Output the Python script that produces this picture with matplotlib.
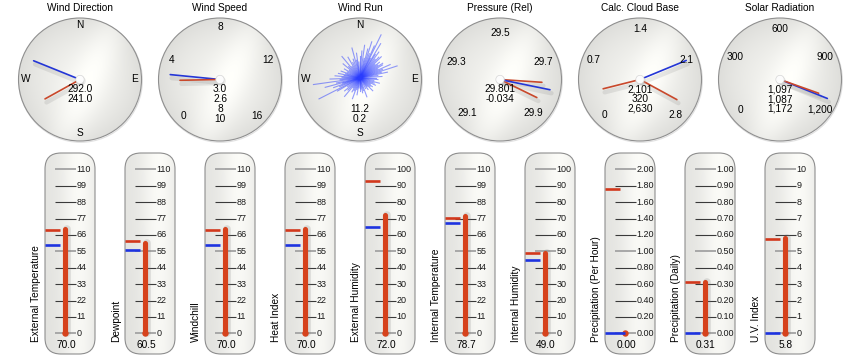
import numpy as np
import matplotlib
matplotlib.use("Agg")
import matplotlib.pyplot as plt
from matplotlib.patches import Circle, FancyBboxPatch

plt.rcParams['font.family'] = ['Liberation Sans', 'DejaVu Sans']

# ---------------- data ----------------
dial_titles = ["Wind Direction", "Wind Speed", "Wind Run",
               "Pressure (Rel)", "Calc. Cloud Base", "Solar Radiation"]

compass_labels = ["N", "E", "S", "W"]
compass_bearings = [0, 90, 180, 270]

wind_dir_current = 292.0
wind_dir_avg = 241.0
wind_dir_texts = ["292.0", "241.0"]

wind_speed_ticks = [0, 4, 8, 12, 16]
wind_speed_current = 3.0
wind_speed_avg = 2.6
wind_speed_texts = ["3.0", "2.6", "8", "10"]

wind_run_dirs = [0, 4, 8, 12, 15, 18, 21, 24, 26, 28, 31, 33, 36, 39, 42, 45, 48, 51, 54,
                 57, 60, 63, 66, 69, 72, 75, 78, 82, 86, 90, 95, 100, 105, 110, 115, 120,
                 125, 130, 135, 140, 145, 152, 160, 165, 170, 175, 180, 185, 190, 195, 200,
                 205, 210, 215, 220, 225, 230, 235, 240, 243, 247, 250, 253, 255, 258, 262,
                 265, 268, 272, 275, 279, 282, 286, 290, 295, 300, 305, 310, 315, 320, 325,
                 330, 335, 340, 345, 349, 352, 356]
wind_run_lens = [22, 27, 33, 20, 30, 38, 26, 35, 48, 22, 40, 28, 32, 24, 28, 30, 20, 25, 22,
                 27, 26, 20, 33, 24, 39, 22, 28, 18, 22, 16, 18, 14, 20, 15, 17, 12,
                 15, 13, 18, 11, 14, 12, 20, 13, 15, 11, 13, 10, 17, 12, 22,
                 14, 16, 12, 24, 17, 20, 15, 26, 46, 22, 28, 18, 36, 24, 47,
                 20, 30, 18, 25, 16, 22, 15, 20, 14, 18, 13, 22, 16, 28, 14,
                 24, 17, 20, 31, 18, 25, 16]
wind_run_texts = ["11.2", "0.2"]

pressure_ticks = [29.1, 29.3, 29.5, 29.7, 29.9]
pressure_tick_labels = ["29.1", "29.3", "29.5", "29.7", "29.9"]
pressure_current = 29.801
pressure_low = 29.778
pressure_high = 29.844
pressure_texts = ["29.801", "-0.034"]

cloud_ticks = [0, 0.7, 1.4, 2.1, 2.8]
cloud_tick_labels = ["0", "0.7", "1.4", "2.1", "2.8"]
cloud_current = 2.101
cloud_low = 0.320
cloud_high = 2.630
cloud_texts = ["2,101", "320", "2,630"]

solar_ticks = [0, 300, 600, 900, 1200]
solar_tick_labels = ["0", "300", "600", "900", "1,200"]
solar_current = 1097
solar_low = 1087
solar_texts = ["1,097", "1,087", "1,172"]

therm_names = ["External Temperature", "Dewpoint", "Windchill", "Heat Index",
               "External Humidity", "Internal Temperature", "Internal Humidity",
               "Precipitation (Per Hour)", "Precipitation (Daily)", "U.V. Index"]
therm_values = [70.0, 60.5, 70.0, 70.0, 72.0, 78.7, 49.0, 0.00, 0.31, 5.8]
therm_value_labels = ["70.0", "60.5", "70.0", "70.0", "72.0", "78.7", "49.0", "0.00", "0.31", "5.8"]
therm_high = [69.0, 62.0, 69.0, 69.0, 93.0, 77.5, 49.0, 1.76, 0.31, 5.77]
therm_low = [59.5, 56.2, 59.5, 59.5, 65.0, 74.2, 45.0, 0.0, 0.0, 0.0]
therm_scale_max = [110, 110, 110, 110, 100, 110, 100, 2.0, 1.0, 10]
therm_tick_decimals = [0, 0, 0, 0, 0, 0, 0, 2, 2, 0]

# ---------------- style ----------------
W, H = 858, 364
fig = plt.figure(figsize=(W / 100, H / 100), dpi=100)
fig.patch.set_facecolor("white")

BLUE = "#2436d6"
RED = "#c9482b"
BAR = "#d6421c"
FS = 7.3

bg = fig.add_axes([0, 0, 1, 1])
bg.set_xlim(0, W)
bg.set_ylim(H, 0)
bg.axis("off")


def face_image(n=200):
    u = np.linspace(-1, 1, n)
    X, Y = np.meshgrid(u, -u)
    r2 = X ** 2 + Y ** 2
    d = np.array([-0.45, -1.0]); d /= np.hypot(*d)
    px, py = X - 0.15, Y
    perp = np.abs(px * d[1] - py * d[0])
    I = 0.945 - 0.075 * r2 + 0.06 * np.exp(-(perp / 0.33) ** 2)
    I = np.clip(I, 0, 1)
    return np.dstack([I, I, I * 0.985])


# ---------------- dials ----------------
R = 61.5
R0 = 66


def dial_axes(i):
    cx, cy = 80 + 140 * i, 79.5
    ax = fig.add_axes([(cx - R0) / W, 1 - (cy + R0) / H, 2 * R0 / W, 2 * R0 / H])
    ax.set_xlim(-R0, R0)
    ax.set_ylim(-R0, R0)
    ax.axis("off")
    circ = Circle((0, 0), R, transform=ax.transData, fc="none")
    im = ax.imshow(face_image(), extent=(-R, R, -R, R), aspect="auto", zorder=1)
    im.set_clip_path(circ)
    ax.add_patch(Circle((0, 0), R, fc="none", ec="#8f8f8f", lw=0.8, zorder=2))
    ax.add_patch(Circle((0.6, -1.0), R + 0.3, fc="none", ec="#e0e0e0", lw=0.8, zorder=0.5))
    fig.text(cx / W, 1 - 8 / H, dial_titles[i], ha="center", va="center", fontsize=FS)
    return ax


def bearing(v, vmin, vmax):
    return -135 + (v - vmin) / (vmax - vmin) * 270


def hand(ax, b, length, color, lw=1.2):
    t = np.radians(b)
    x, y = length * np.sin(t), length * np.cos(t)
    ax.plot([1.5, x + 1.5], [-3.5, y - 3.5], color="#555555", alpha=0.12, lw=3.2,
            solid_capstyle="round", zorder=3)
    ax.plot([0, x], [0, y], color=color, lw=lw, solid_capstyle="round", zorder=4)


def hub(ax):
    ax.add_patch(Circle((1.2, -1.5), 4.6, fc="#bbbbbb", ec="none", alpha=0.3, zorder=5))
    ax.add_patch(Circle((0, 0), 4.2, fc="#fcfcfc", ec="#d6d6d6", lw=0.5, zorder=6))


def tick_labels(ax, ticks, labels, r, span=270):
    n = len(ticks)
    for k, lab in enumerate(labels):
        b = -span / 2 + k * span / (n - 1)
        t = np.radians(b)
        ax.text(r * np.sin(t), r * np.cos(t), lab, ha="center", va="center",
                fontsize=FS, zorder=7)


def value_texts(ax, texts, y0=-10, step=10):
    for k, s in enumerate(texts):
        ax.text(0, y0 - step * k, s, ha="center", va="center", fontsize=FS, zorder=7)


def compass(ax, r=54):
    for lab, b in zip(compass_labels, compass_bearings):
        t = np.radians(b)
        ax.text(r * np.sin(t), r * np.cos(t), lab, ha="center", va="center",
                fontsize=FS, zorder=7)


# Wind direction
ax = dial_axes(0)
compass(ax)
hand(ax, wind_dir_current, 50, BLUE)
hand(ax, wind_dir_avg, 40, RED)
hub(ax)
value_texts(ax, wind_dir_texts)

# Wind speed
ax = dial_axes(1)
tick_labels(ax, wind_speed_ticks, [str(t) for t in wind_speed_ticks], 52)
hand(ax, bearing(wind_speed_current, 0, 16), 50, BLUE)
hand(ax, bearing(wind_speed_avg, 0, 16), 40, RED)
hub(ax)
value_texts(ax, wind_speed_texts)

# Wind run
ax = dial_axes(2)
compass(ax)
for b, L in zip(wind_run_dirs, wind_run_lens):
    t = np.radians(b)
    ax.plot([0, L * np.sin(t)], [1.5, 1.5 + L * np.cos(t)], color="#2a3cff",
            alpha=0.5, lw=0.8, zorder=4)
value_texts(ax, wind_run_texts, y0=-29.5, step=9.5)

# Pressure
ax = dial_axes(3)
tick_labels(ax, pressure_ticks, pressure_tick_labels, 47)
hand(ax, bearing(pressure_high, 29.1, 29.9), 41, RED)
hand(ax, bearing(pressure_low, 29.1, 29.9), 42, RED)
hand(ax, bearing(pressure_current, 29.1, 29.9), 51, BLUE)
hub(ax)
value_texts(ax, pressure_texts)

# Cloud base
ax = dial_axes(4)
tick_labels(ax, cloud_ticks, cloud_tick_labels, 50)
hand(ax, bearing(cloud_current, 0, 2.8), 50, BLUE)
hand(ax, bearing(cloud_low, 0, 2.8), 38, RED)
hand(ax, bearing(cloud_high, 0, 2.8), 42, RED)
hub(ax)
value_texts(ax, cloud_texts, step=9.7)

# Solar radiation
ax = dial_axes(5)
tick_labels(ax, solar_ticks, solar_tick_labels, 50, span=255)
hand(ax, bearing(solar_current, 0, 1200), 51, BLUE)
hand(ax, bearing(solar_low, 0, 1200), 41, RED)
hub(ax)
value_texts(ax, solar_texts, step=9.7)

# ---------------- thermometers ----------------
TOP, BOT = 153, 354
Y0, SPAN = 333.3, 164.0


def capsule_image(n=120):
    x = np.linspace(0, 1, n)
    y = np.linspace(0, 1, n)
    X, Y = np.meshgrid(x, y)
    I = 0.90 + 0.085 * np.exp(-((X - 0.68) / 0.35) ** 2) - 0.015 * Y
    I = np.clip(I, 0, 1)
    return np.dstack([I, I, I * 0.985])


for i, name in enumerate(therm_names):
    cx = 70 + 80 * i
    vmax = therm_scale_max[i]

    cap = FancyBboxPatch((cx - 25, TOP), 50, BOT - TOP,
                         boxstyle="round,pad=0,rounding_size=16",
                         fc="none", ec="#8e8e8e", lw=0.8, zorder=3)
    clip = FancyBboxPatch((cx - 25, TOP), 50, BOT - TOP,
                          boxstyle="round,pad=0,rounding_size=16",
                          fc="none", ec="none", transform=bg.transData)
    bg.add_patch(clip)
    im = bg.imshow(capsule_image(), extent=(cx - 25, cx + 25, BOT, TOP),
                   aspect="auto", zorder=2)
    im.set_clip_path(clip)
    bg.add_patch(cap)

    def pv(p, vmax=vmax):
        return (Y0 - p) / SPAN * vmax

    ax = fig.add_axes([(cx - 25) / W, 1 - BOT / H, 50 / W, (BOT - TOP) / H])
    ax.set_xlim(0, 50)
    ax.set_ylim(pv(BOT), pv(TOP))
    ax.axis("off")

    dec = therm_tick_decimals[i]
    for k in range(11):
        v = vmax * k / 10
        major = k in (0, 5, 10)
        ax.plot([10, 31], [v, v], color="#a8a8a8" if major else "#3a3a3a",
                lw=1.4 if major else 0.8, zorder=2, solid_capstyle="butt")
        ax.text(31.5, v, f"{v:.{dec}f}", ha="left", va="center", fontsize=6.5,
                color="#1a1a1a", zorder=3)

    val = therm_values[i]
    ax.plot([22.3, 22.3], [0, val], color="#777777", alpha=0.2, lw=5.5,
            solid_capstyle="round", zorder=3)
    ax.plot([20, 20], [0, val], color=BAR, lw=3.7, solid_capstyle="round", zorder=4)
    ax.plot([20], [0], "o", color=BAR, ms=4.6, mec="none", zorder=4)

    hi_len = 15
    lo_len = 20 if val == 0 else 15
    ax.plot([0, hi_len], [therm_high[i]] * 2, color="#d2381c", lw=1.9,
            solid_capstyle="butt", zorder=5, clip_on=False)
    ax.plot([0, lo_len], [therm_low[i]] * 2, color="#1d33e0", lw=1.9,
            solid_capstyle="butt", zorder=5, clip_on=False)

    ax.text(21, pv(344.5), therm_value_labels[i], ha="center", va="center",
            fontsize=FS, zorder=6)

    fig.text((cx - 34) / W, 1 - 342 / H, name, rotation=90, ha="center",
             va="bottom", fontsize=FS)

fig.savefig("out.png", dpi=100, facecolor="white")
